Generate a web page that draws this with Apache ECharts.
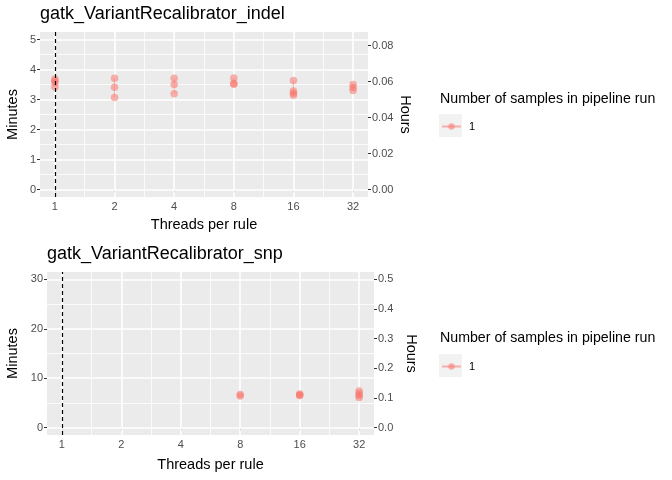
<!DOCTYPE html>
<html>
<head>
<meta charset="utf-8">
<script src="https://cdn.jsdelivr.net/npm/echarts@6/dist/echarts.min.js"></script>
<style>
  html, body { margin: 0; background: #fff; }
  #chart { width: 672px; height: 480px; }
</style>
</head>
<body>
<div id="chart"></div>
<script>
// values
const threadTicks = [1, 2, 4, 8, 16, 32];
const indelThreads = [1, 1, 1, 1, 2, 2, 2, 4, 4, 4, 8, 8, 8, 16, 16, 16, 16, 32, 32, 32];
const indelMinutes = [3.68, 3.62, 3.57, 3.42, 3.71, 3.41, 3.07, 3.71, 3.50, 3.19, 3.72, 3.53, 3.51, 3.63, 3.28, 3.21, 3.14, 3.50, 3.40, 3.30];
const snpThreads = [8, 8, 16, 16, 16, 32, 32, 32, 32];
const snpMinutes = [6.7, 6.4, 6.8, 6.6, 6.5, 7.4, 6.9, 6.5, 6.1];
const indelMinuteTicks = [0, 1, 2, 3, 4, 5];
const indelHourTicks = [0, 0.02, 0.04, 0.06, 0.08];
const snpMinuteTicks = [0, 10, 20, 30];
const snpHourTicks = [0, 0.1, 0.2, 0.3, 0.4, 0.5];
const sampleName = "1";
const panelTitles = ["gatk_VariantRecalibrator_indel", "gatk_VariantRecalibrator_snp"];
const legendTitle = "Number of samples in pipeline run";

const FONT = "Liberation Sans";
const POINT = "rgba(248,118,109,0.55)";
const grids = [
  { left: 40, right: 304, top: 32, height: 165 },
  { left: 47, right: 298, top: 272, height: 163 }
];
const nameGaps = [
  { x: 20, left: 20, right: 29 },
  { x: 22, left: 27, right: 29 }
];

function midpoints(ticks) {
  const out = [];
  for (let i = 1; i < ticks.length; i += 1) out.push((ticks[i - 1] + ticks[i]) / 2);
  return out;
}

function groupedData(xs, ys) {
  // one vertical segment per thread count, broken by nulls
  const out = [];
  for (let i = 0; i < xs.length; i += 1) {
    if (i > 0 && xs[i] !== xs[i - 1]) out.push([xs[i], null]);
    out.push([xs[i], ys[i]]);
  }
  return out;
}

const xAxes = [];
const yAxes = [];
const series = [];

function addPanel(idx, xs, ys, minuteTicks, hourTicks, digits) {
  const lo = minuteTicks[0];
  const hi = minuteTicks[minuteTicks.length - 1];
  const pad = (hi - lo) * 0.05;
  const gaps = nameGaps[idx];
  const nameStyle = { color: "#000", fontSize: 14.5, fontFamily: FONT };
  const tickStyle = { show: true, length: 3, lineStyle: { color: "#333", width: 1 } };
  const labelStyle = { color: "#4D4D4D", fontSize: 11, fontFamily: FONT, margin: 4 };
  xAxes.push({
    type: "log",
    logBase: 2,
    gridIndex: idx,
    min: Math.pow(2, -0.25),
    max: Math.pow(2, 5.25),
    name: "Threads per rule",
    nameLocation: "middle",
    nameGap: gaps.x,
    nameTextStyle: nameStyle,
    axisLine: { show: false },
    axisTick: Object.assign({ customValues: threadTicks }, tickStyle),
    axisLabel: Object.assign({ customValues: threadTicks, formatter: (v) => String(Math.round(v)) }, labelStyle),
    splitLine: { show: false }
  });
  yAxes.push({
    type: "value",
    gridIndex: idx,
    min: lo - pad,
    max: hi + pad,
    name: "Minutes",
    nameLocation: "middle",
    nameGap: gaps.left,
    nameTextStyle: nameStyle,
    axisLine: { show: false },
    axisTick: Object.assign({ customValues: minuteTicks }, tickStyle),
    axisLabel: Object.assign({ customValues: minuteTicks }, labelStyle),
    splitLine: { show: false }
  });
  yAxes.push({
    type: "value",
    gridIndex: idx,
    position: "right",
    min: (lo - pad) / 60,
    max: (hi + pad) / 60,
    name: "Hours",
    nameLocation: "middle",
    nameRotate: -90,
    nameGap: gaps.right,
    nameTextStyle: nameStyle,
    axisLine: { show: false },
    axisTick: Object.assign({ customValues: hourTicks }, tickStyle),
    axisLabel: Object.assign({ customValues: hourTicks, formatter: (v) => v.toFixed(digits) }, labelStyle),
    splitLine: { show: false }
  });
  const yLeft = idx * 2;
  const gridLine = (w) => ({ color: "#fff", width: w, type: "solid" });
  const xMinor = midpoints(threadTicks.map((t) => Math.log2(t))).map((v) => Math.pow(2, v));
  series.push({
    type: "scatter",
    xAxisIndex: idx,
    yAxisIndex: yLeft,
    data: [],
    z: 1,
    silent: true,
    markLine: {
      z: 1,
      silent: true,
      animation: false,
      symbol: "none",
      label: { show: false },
      emphasis: { disabled: true },
      data: [
        ...midpoints(minuteTicks).map((v) => ({ yAxis: v, lineStyle: gridLine(0.8) })),
        ...xMinor.map((v) => ({ xAxis: v, lineStyle: gridLine(0.8) })),
        ...minuteTicks.map((v) => ({ yAxis: v, lineStyle: gridLine(1.6) })),
        ...threadTicks.map((v) => ({ xAxis: v, lineStyle: gridLine(1.6) }))
      ]
    }
  });
  series.push({
    type: "line",
    name: sampleName,
    xAxisIndex: idx,
    yAxisIndex: yLeft,
    data: groupedData(xs, ys),
    connectNulls: false,
    symbol: "circle",
    symbolSize: 7.5,
    showSymbol: true,
    itemStyle: { color: POINT },
    lineStyle: { color: POINT, width: 1 },
    z: 3,
    markLine: {
      z: 4,
      silent: true,
      animation: false,
      symbol: "none",
      label: { show: false },
      data: [{ xAxis: 1, lineStyle: { color: "#000", width: 1.2, type: [4, 3] } }]
    }
  });
}

addPanel(0, indelThreads, indelMinutes, indelMinuteTicks, indelHourTicks, 2);
addPanel(1, snpThreads, snpMinutes, snpMinuteTicks, snpHourTicks, 1);

const titleStyle = { color: "#000", fontSize: 18, fontWeight: "normal", fontFamily: FONT };
const legTitleStyle = { color: "#000", fontSize: 14.2, fontWeight: "normal", fontFamily: FONT };
const legendCommon = {
  left: 441, padding: 0, itemWidth: 19, itemHeight: 8, itemGap: 8,
  data: [sampleName], selectedMode: false,
  textStyle: { color: "#000", fontSize: 11, fontFamily: FONT, padding: [0, 0, 0, 3] }
};

const option = {
  backgroundColor: "#fff",
  animation: false,
  textStyle: { fontFamily: FONT },
  title: [
    { text: panelTitles[0], left: 40, top: 5, padding: 0, textStyle: titleStyle },
    { text: panelTitles[1], left: 47, top: 245, padding: 0, textStyle: titleStyle },
    { text: legendTitle, left: 440, top: 92, padding: 0, textStyle: legTitleStyle },
    { text: legendTitle, left: 440, top: 331, padding: 0, textStyle: legTitleStyle }
  ],
  grid: grids.map((g) => Object.assign({ show: true, backgroundColor: "#EBEBEB", borderWidth: 0 }, g)),
  graphic: [
    { type: "rect", shape: { x: 439, y: 114, width: 23, height: 23 }, style: { fill: "#F2F2F2" }, z: -1 },
    { type: "rect", shape: { x: 439, y: 354, width: 23, height: 23 }, style: { fill: "#F2F2F2" }, z: -1 }
  ],
  legend: [
    Object.assign({ top: 121 }, legendCommon),
    Object.assign({ top: 361 }, legendCommon)
  ],
  xAxis: xAxes,
  yAxis: yAxes,
  series: series
};

const chart = echarts.init(document.getElementById("chart"), null, { renderer: "canvas" });
chart.setOption(option);
</script>
</body>
</html>
